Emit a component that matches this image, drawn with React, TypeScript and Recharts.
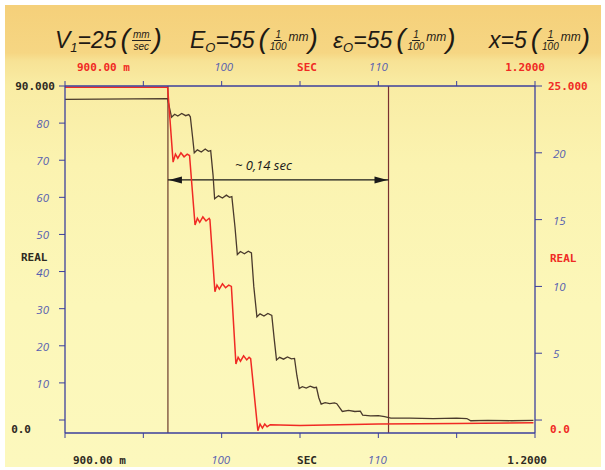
import React from 'react';
import { LineChart, Line, XAxis, YAxis, ReferenceLine } from 'recharts';

// ---- data (time in seconds, values in axis units) ----
const darkTime = [
  0.9, 0.9655, 0.9665, 0.968, 0.97, 0.972, 0.9745, 0.977, 0.979, 0.98,
  0.9815, 0.9825, 0.9845, 0.987, 0.9895, 0.9915, 0.993,
  0.9945, 0.9955, 0.998, 1.0005, 1.003, 1.005, 1.0065,
  1.0085, 1.01, 1.012, 1.0145, 1.017, 1.019,
  1.0205, 1.0225, 1.0245, 1.027, 1.0295, 1.032,
  1.0335, 1.035, 1.037, 1.0395, 1.042, 1.0445, 1.0465,
  1.048, 1.0495, 1.0515, 1.054, 1.0565, 1.059, 1.0605,
  1.062, 1.0635, 1.066, 1.069, 1.072, 1.0735,
  1.0755, 1.077, 1.081, 1.085, 1.0885,
  1.09, 1.095, 1.1, 1.104, 1.108, 1.12, 1.135, 1.15, 1.1565,
  1.159, 1.17, 1.185, 1.199,
];
const darkValue = [
  86.4, 86.6, 84.5, 81.6, 82.4, 81.9, 82.6, 82.0, 82.3, 81.7,
  76.0, 72.0, 72.8, 72.2, 73.0, 72.4, 72.6,
  66.0, 59.6, 60.4, 59.8, 60.6, 60.0, 60.2,
  52.0, 44.6, 45.4, 44.8, 45.5, 45.0,
  36.0, 27.8, 28.6, 28.0, 28.7, 28.2,
  22.0, 16.2, 16.9, 16.4, 17.0, 16.5, 16.6,
  12.0, 8.5, 9.0, 8.6, 9.1, 8.7, 8.8,
  6.0, 4.3, 4.7, 4.4, 4.6, 4.4,
  3.2, 2.3, 2.6, 2.3, 2.4,
  1.3, 1.1, 1.2, 0.9, 0.5, 0.5, 0.4, 0.5, 0.4,
  -0.2, -0.1, -0.2, -0.1,
];
const redTime = [
  0.9, 0.9655, 0.969, 0.9705, 0.972, 0.974, 0.976, 0.978, 0.9795,
  0.983, 0.9845, 0.986, 0.988, 0.99, 0.992, 0.9925,
  0.9957, 0.997, 0.9985, 1.0005, 1.0025, 1.0045, 1.0062,
  1.0091, 1.0105, 1.012, 1.014, 1.016, 1.0175, 1.0185,
  1.0231, 1.0245, 1.026, 1.0275, 1.029, 1.031, 1.05, 1.1, 1.15, 1.199,
];
const redValue = [
  24.9, 24.9, 19.3, 19.9, 19.6, 20.0, 19.7, 19.9, 19.8,
  14.6, 15.1, 14.8, 15.2, 14.9, 15.1, 15.0,
  9.6, 10.1, 9.8, 10.2, 9.9, 10.1, 10.0,
  4.2, 4.7, 4.4, 4.8, 4.5, 4.7, 4.6,
  -0.8, -0.3, -0.6, -0.3, -0.5, -0.35, -0.4, -0.3, -0.25, -0.2,
];

const xTicks = [0.9, 0.95, 1.0, 1.05, 1.1, 1.15, 1.2];
const bottomLabels = ['900.00 m', '', '100', 'SEC', '110', '', '1.2000'];
const topLabels = ['900.00 m', '', '100', 'SEC', '110', '', '1.2000'];
const leftTicks = [0, 10, 20, 30, 40, 50, 60, 70, 80, 90];
const leftLabels = ['0.0', '10', '20', '30', '40', '50', '60', '70', '80', '90.000'];
const rightTicks = [0, 5, 10, 15, 20, 25];
const rightLabels = ['0.0', '5', '10', '15', '20', '25.000'];
const markerTimes = [0.9657, 1.1065];
const arrowLevel = 64.7;
const arrowText = '~ 0,14 sec';
const axisTitle = 'REAL';

const headerItems = [
  { main: 'V', sub: '1', rest: '=25', num: 'mm', den: 'sec', unit: '' },
  { main: 'E', sub: 'O', rest: '=55', num: '1', den: '100', unit: 'mm' },
  { main: 'ε', sub: 'O', rest: '=55', num: '1', den: '100', unit: 'mm' },
  { main: 'x', sub: '', rest: '=5', num: '1', den: '100', unit: 'mm' },
];
const headerLeft = [55, 190, 333, 489];

const darkData = darkTime.map((t, i) => ({ t, v: darkValue[i] }));
const redData = redTime.map((t, i) => ({ t, v: redValue[i] }));

// ---- styles ----
const BLUE = '#3b3f9c';
const DARK = '#2e2a22';
const RED = '#f02a24';
const HAND = '#5660b0';
const plotFont = { fontFamily: 'DejaVu Sans Mono', fontWeight: 700, fontSize: 11 } as const;
const handFont = { fontFamily: 'Open Sans', fontStyle: 'italic', fontSize: 11.5 } as const;

const findIdx = (arr: number[], v: number) => arr.findIndex((a) => Math.abs(a - v) < 1e-6);
const isHand = (s: string) => /^\d+$/.test(s);

const BottomTick = (props: any) => {
  const { x, y, payload } = props;
  const i = findIdx(xTicks, payload.value);
  const s = bottomLabels[i];
  if (!s) return <g />;
  let anchor: 'start' | 'middle' | 'end' = 'middle';
  let dx = -1;
  if (i === 0) { anchor = 'start'; dx = 8; }
  else if (i === xTicks.length - 1) { anchor = 'end'; dx = 12; }
  else if (s === 'SEC') dx = 7;
  const hand = isHand(s);
  return (
    <text x={x + dx} y={y + 24} textAnchor={anchor} fill={hand ? HAND : DARK} style={hand ? handFont : plotFont}>{s}</text>
  );
};

const TopTick = (props: any) => {
  const { x, y, payload } = props;
  const i = findIdx(xTicks, payload.value);
  const s = topLabels[i];
  if (!s) return <g />;
  let anchor: 'start' | 'middle' | 'end' = 'middle';
  let dx = 0;
  if (i === 0) { anchor = 'start'; dx = 12; }
  else if (i === xTicks.length - 1) { anchor = 'end'; dx = 10; }
  else if (s === 'SEC') dx = 7;
  else if (s === '100') dx = 2;
  const hand = isHand(s);
  return (
    <text x={x + dx} y={y - 8} textAnchor={anchor} fill={hand ? HAND : RED} style={hand ? handFont : plotFont}>{s}</text>
  );
};

const LeftTick = (props: any) => {
  const { x, y, payload } = props;
  const i = findIdx(leftTicks, payload.value);
  const s = leftLabels[i];
  if (i === leftTicks.length - 1) {
    return <text x={x - 2} y={y + 4} textAnchor="end" fill={DARK} style={plotFont}>{s}</text>;
  }
  if (i === 0) {
    return <text x={x - 26} y={y + 13} textAnchor="end" fill={DARK} style={plotFont}>{s}</text>;
  }
  return <text x={x - 8} y={y + 5} textAnchor="end" fill={HAND} style={handFont}>{s}</text>;
};

const RightTick = (props: any) => {
  const { x, y, payload } = props;
  const i = findIdx(rightTicks, payload.value);
  const s = rightLabels[i];
  if (i === rightTicks.length - 1) {
    return <text x={x + 4} y={y + 4} textAnchor="start" fill={RED} style={plotFont}>{s}</text>;
  }
  if (i === 0) {
    return <text x={x + 6} y={y + 13} textAnchor="start" fill={RED} style={plotFont}>{s}</text>;
  }
  return <text x={x + 9} y={y + 5} textAnchor="start" fill={HAND} style={handFont}>{s}</text>;
};

const LeftTitle = (props: any) => {
  const vb = props.viewBox;
  return <text x={vb.x + 13} y={vb.y + vb.height / 2 + 1} fill={DARK} style={plotFont}>{axisTitle}</text>;
};
const RightTitle = (props: any) => {
  const vb = props.viewBox;
  return <text x={vb.x + 15} y={vb.y + vb.height / 2 + 2} fill={RED} style={plotFont}>{axisTitle}</text>;
};

const ArrowShape = (props: any) => {
  const { x1, y1, x2, y2 } = props;
  return (
    <g>
      <line x1={x1} y1={y1} x2={x2} y2={y2} stroke="#1a1a1a" strokeWidth={1.3} />
      <polygon points={`${x1 + 1},${y1} ${x1 + 14},${y1 - 3.5} ${x1 + 14},${y1 + 3.5}`} fill="#1a1a1a" />
      <polygon points={`${x2 - 1},${y2} ${x2 - 14},${y2 - 3.5} ${x2 - 14},${y2 + 3.5}`} fill="#1a1a1a" />
      <text x={x1 + 67} y={y1 - 10} fill="#1a1a1a" style={{ fontFamily: 'Open Sans', fontStyle: 'italic', fontSize: 13 }}>{arrowText}</text>
    </g>
  );
};

const Frac = ({ n, d }: { n: string; d: string }) => (
  <span style={{ display: 'inline-flex', flexDirection: 'column', alignItems: 'center', fontSize: 10, lineHeight: '11px', margin: '0 2px' }}>
    <span style={{ borderBottom: '1.2px solid #222', padding: '0 1px' }}>{n}</span>
    <span>{d}</span>
  </span>
);

const Header = () => (
  <>
    {headerItems.map((h, i) => (
      <div key={i} style={{ position: 'absolute', left: headerLeft[i], top: 22, height: 36, display: 'flex', alignItems: 'center', fontFamily: 'Liberation Sans', fontStyle: 'italic', color: '#1e1a14', fontSize: 23, whiteSpace: 'nowrap' }}>
        <span>{h.main}</span>
        {h.sub ? <span style={{ fontSize: 13, position: 'relative', top: 7 }}>{h.sub}</span> : null}
        <span>{h.rest}</span>
        <span style={{ fontSize: 28, fontWeight: 300, marginLeft: 4, position: 'relative', top: -1 }}>(</span>
        <Frac n={h.num} d={h.den} />
        {h.unit ? <span style={{ fontSize: 12, position: 'relative', top: -3 }}>{h.unit}</span> : null}
        <span style={{ fontSize: 28, fontWeight: 300, position: 'relative', top: -1 }}>)</span>
      </div>
    ))}
  </>
);

export default function App() {
  return (
    <div style={{ position: 'absolute', left: 0, top: 0, width: 605, height: 470, background: '#ffffff', overflow: 'hidden' }}>
      <div style={{ position: 'absolute', left: 5, top: 5, width: 596, height: 462, background: 'linear-gradient(180deg, #f5d07a 0px, #f6d683 48px, #f7e295 56px, #f9eca4 80px, #fbf3b0 160px, #fcf7b9 300px, #fcf8bd 462px)' }} />
      <Header />
      <div style={{ position: 'absolute', left: 0, top: 0 }}>
        <LineChart width={605} height={470} margin={{ top: 60, right: 8, bottom: 8, left: 8 }}>
          <XAxis xAxisId="B" type="number" dataKey="t" domain={[0.9, 1.2]} ticks={xTicks} orientation="bottom" height={29}
            stroke={BLUE} tickSize={5} tickMargin={2} tick={<BottomTick />} tickLine={{ stroke: BLUE }} axisLine={{ stroke: BLUE, strokeWidth: 1.3 }} allowDataOverflow />
          <XAxis xAxisId="T" type="number" dataKey="t" domain={[0.9, 1.2]} ticks={xTicks} orientation="top" height={26}
            stroke={BLUE} tickSize={5} tickMargin={2} tick={<TopTick />} tickLine={{ stroke: BLUE }} axisLine={{ stroke: BLUE, strokeWidth: 1.3 }} allowDataOverflow />
          <YAxis yAxisId="L" type="number" domain={[-3.5, 90]} ticks={leftTicks} orientation="left" width={57}
            stroke={BLUE} tickSize={6} tickMargin={2} tick={<LeftTick />} tickLine={{ stroke: BLUE }} axisLine={{ stroke: BLUE, strokeWidth: 1.3 }}
            allowDataOverflow label={<LeftTitle />} />
          <YAxis yAxisId="R" type="number" domain={[-0.97, 25]} ticks={rightTicks} orientation="right" width={62}
            stroke={BLUE} tickSize={7} tickMargin={2} tick={<RightTick />} tickLine={{ stroke: BLUE }} axisLine={{ stroke: BLUE, strokeWidth: 1.3 }}
            allowDataOverflow label={<RightTitle />} />
          {markerTimes.map((t, i) => (
            <ReferenceLine key={i} xAxisId="B" yAxisId="L" x={t} stroke={i === 0 ? '#6a3a2c' : '#7a3030'} strokeWidth={1.2} />
          ))}
          <ReferenceLine xAxisId="B" yAxisId="L" segment={[{ x: markerTimes[0], y: arrowLevel }, { x: markerTimes[1], y: arrowLevel }]}
            shape={<ArrowShape />} />
          <Line xAxisId="B" yAxisId="L" data={darkData} dataKey="v" type="linear" dot={false} stroke="#4a3a2c" strokeWidth={1.3} isAnimationActive={false} />
          <Line xAxisId="B" yAxisId="R" data={redData} dataKey="v" type="linear" dot={false} stroke={RED} strokeWidth={1.5} isAnimationActive={false} />
        </LineChart>
      </div>
    </div>
  );
}
